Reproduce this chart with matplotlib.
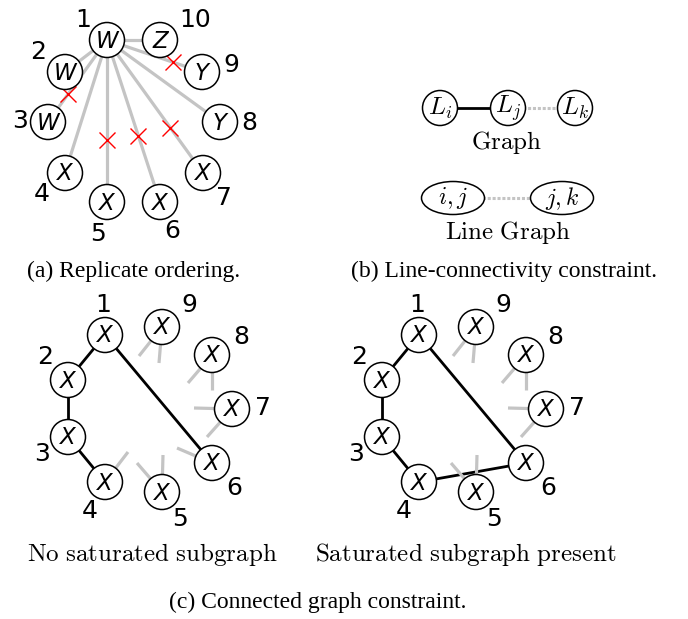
import matplotlib.pyplot as plt
from matplotlib.patches import Circle, Ellipse

plt.rcParams['mathtext.fontset'] = 'cm'

# (a) replicate ordering: replicate 1 linked to the others
a_nums = ["1", "2", "3", "4", "5", "6", "7", "8", "9", "10"]
a_types = ["W", "W", "W", "X", "X", "X", "X", "Y", "Y", "Z"]
a_xy = [(107, 40), (65, 72), (48, 122), (65, 173), (107, 202),
        (160, 202), (203, 173), (220, 122), (202, 72), (160, 40)]
a_num_xy = [(83, 20), (38, 52), (20, 121), (42, 194), (98, 234),
            (172, 231), (224, 198), (249, 123), (231, 65), (195, 20)]
a_crossed = [3, 5, 6, 7, 9]
a_cross_t = [0.66, 0.62, 0.59, 0.66, 0.69]

# (b) line connectivity
b_nodes = [r"$L_i$", r"$L_j$", r"$L_k$"]
b_xy = [(440, 108), (508, 108), (575, 108)]
lg_nodes = [r"$i, j$", r"$j, k$"]
lg_xy = [(453, 198), (562, 198)]

# (c) connected graph constraint
c_nums = ["1", "2", "3", "4", "5", "6", "7", "8", "9"]
c_xy = [(105, 335), (68, 380), (68, 437), (105, 482), (162, 492),
        (212, 463), (232, 409), (212, 355), (162, 327)]
c_num_xy = [(103, 305), (45, 357), (42, 454), (90, 511), (180, 519),
            (234, 488), (263, 408), (241, 337), (189, 305)]
c_shift = 314
left_edges = [(1, 2), (2, 3), (3, 4), (1, 6)]
right_edges = [(1, 2), (2, 3), (3, 4), (1, 6), (4, 6)]
# loose edge ends (node, dx, dy)
left_stubs = [(9, -23, 29), (9, -3, 36), (8, -24, 28), (8, 0, 35),
              (7, -38, -1), (7, -25, 28), (6, -35, -15),
              (5, 1, -37), (5, -25, -29), (4, 23, -30)]
right_stubs = [s for s in left_stubs if s[0] not in (4, 6)]

GREY = "#c4c4c4"
R = 17.5

fig = plt.figure(figsize=(6.88, 6.19), dpi=100)
ax = fig.add_axes([0, 0, 1, 1])
ax.set_xlim(0, 688)
ax.set_ylim(619, 0)
ax.axis('off')


def node(x, y, text, size=16.5, r=R):
    ax.add_patch(Circle((x, y), r, facecolor="white", edgecolor="black", lw=1.1, zorder=3))
    ax.text(x, y + 1, text, fontsize=size, style="italic", ha="center", va="center", zorder=4)


def num(x, y, text, size=18):
    ax.text(x, y, text, fontsize=size, ha="center", va="center")


def caption(x, y, text):
    ax.text(x, y, text, family="Liberation Serif", fontsize=17, ha="center", va="center")


# panel (a)
hub = a_xy[0]
for i in range(1, len(a_xy)):
    ax.plot([hub[0], a_xy[i][0]], [hub[1], a_xy[i][1]], color=GREY, lw=2.3, zorder=1,
            solid_capstyle="butt")
for k, t in zip(a_crossed, a_cross_t):
    x, y = a_xy[k - 1]
    ax.plot(hub[0] + t * (x - hub[0]), hub[1] + t * (y - hub[1]), "x", color="red",
            ms=12, mew=1.0, zorder=2)
for (x, y), t in zip(a_xy, a_types):
    node(x, y, t)
for (x, y), n in zip(a_num_xy, a_nums):
    num(x, y, n)
caption(134, 271, "(a) Replicate ordering.")

# panel (b)
ax.plot([b_xy[0][0], b_xy[1][0]], [b_xy[0][1], b_xy[1][1]], color="black", lw=2, zorder=1)
ax.plot([b_xy[1][0], b_xy[2][0]], [b_xy[1][1], b_xy[2][1]], color=GREY, lw=2.2,
        ls=(0, (1, 0.6)), zorder=1)
for (x, y), t in zip(b_xy, b_nodes):
    ax.add_patch(Circle((x, y), R, facecolor="white", edgecolor="black", lw=1.1, zorder=3))
    ax.text(x, y, t, fontsize=18, ha="center", va="center", zorder=4)
ax.text(507, 143, r"$\mathrm{Graph}$", fontsize=18, ha="center", va="center")
ax.plot([lg_xy[0][0], lg_xy[1][0]], [lg_xy[0][1], lg_xy[1][1]], color=GREY, lw=2.2,
        ls=(0, (1, 0.6)), zorder=1)
for (x, y), t in zip(lg_xy, lg_nodes):
    ax.add_patch(Ellipse((x, y), 63, 33, facecolor="white", edgecolor="black", lw=1.1, zorder=3))
    ax.text(x, y, t, fontsize=17, ha="center", va="center", zorder=4)
ax.text(508, 233, r"$\mathrm{Line\ Graph}$", fontsize=18, ha="center", va="center")
caption(504, 271, "(b) Line-connectivity constraint.")

# panel (c)
for dx, edges, stubs, title in [(0, left_edges, left_stubs, r"$\mathrm{No\ saturated\ subgraph}$"),
                                (c_shift, right_edges, right_stubs,
                                 r"$\mathrm{Saturated\ subgraph\ present}$")]:
    for a, b in edges:
        (x0, y0), (x1, y1) = c_xy[a - 1], c_xy[b - 1]
        ax.plot([x0 + dx, x1 + dx], [y0, y1], color="black", lw=2, zorder=1)
    for k, sx, sy in stubs:
        x0, y0 = c_xy[k - 1]
        ax.plot([x0 + dx, x0 + dx + sx], [y0, y0 + sy], color=GREY, lw=2.3, zorder=1,
                solid_capstyle="butt")
    for x, y in c_xy:
        node(x + dx, y, "X")
    for (x, y), n in zip(c_num_xy, c_nums):
        num(x + dx, y, n)
    ax.text(152 + dx, 555, title, fontsize=18, ha="center", va="center")
caption(318, 602, "(c) Connected graph constraint.")

fig.savefig("out.png", dpi=100)
